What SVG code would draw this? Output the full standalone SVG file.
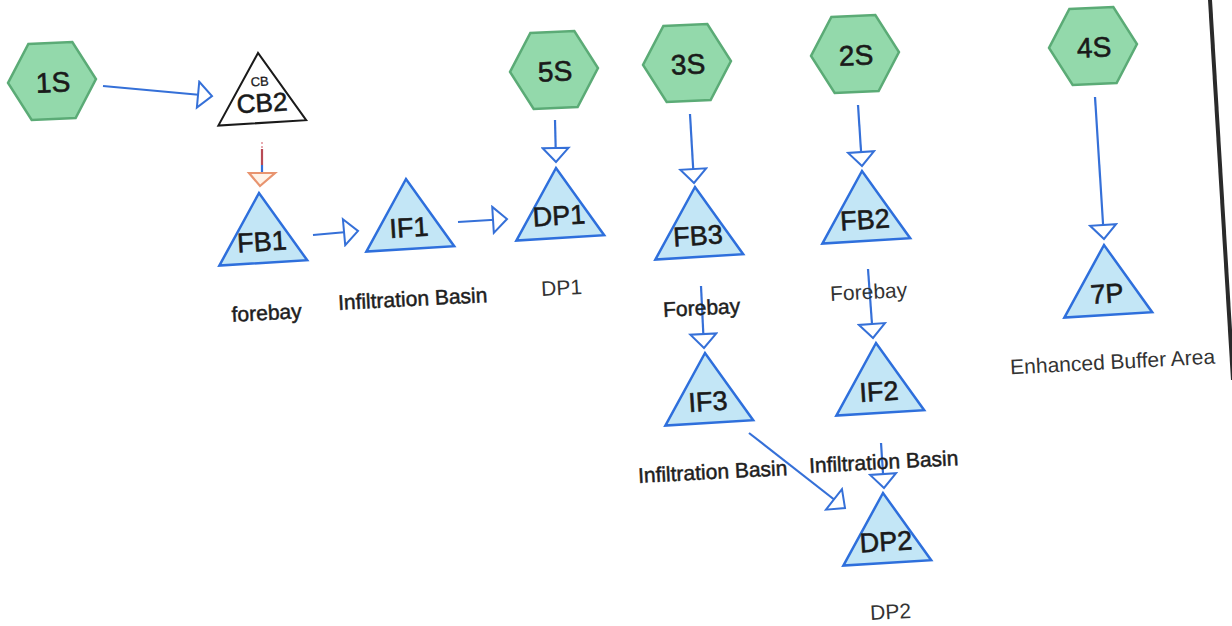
<svg xmlns="http://www.w3.org/2000/svg" width="1232" height="626" viewBox="0 0 1232 626">
<style>
.hex{fill:#93d9ab;stroke:#5bab76;stroke-width:2.5}
.tri{fill:#c3e6f6;stroke:#2e6fdc;stroke-width:2.5;stroke-linejoin:miter}
.tri-cb{fill:#ffffff;stroke:#1a1a1a;stroke-width:2}
.nt{font-family:"Liberation Sans",Arial,sans-serif;font-size:27px;fill:#1a1a1a;stroke:#1a1a1a;stroke-width:0.6;text-anchor:middle}
.ht{font-family:"Liberation Sans",Arial,sans-serif;font-size:28px;fill:#1a1a1a;stroke:#1a1a1a;stroke-width:0.6;text-anchor:middle}
.lb{font-family:"Liberation Sans",Arial,sans-serif;font-size:21px;fill:#1e1e1e;stroke:#1e1e1e;stroke-width:0.5;text-anchor:middle}
.lg{font-family:"Liberation Sans",Arial,sans-serif;font-size:21px;fill:#333333;text-anchor:middle}
.cn{stroke:#3570d8;stroke-width:2.2;fill:none;marker-end:url(#arr)}
</style>
<defs>
<marker id="arr" markerUnits="userSpaceOnUse" viewBox="0 0 18 30" refX="16" refY="15" markerWidth="18" markerHeight="30" orient="auto">
<path d="M2,2 L16,15 L2,28 Z" fill="#ffffff" stroke="#3570d8" stroke-width="2"/>
</marker>
</defs>
<rect width="1232" height="626" fill="#ffffff"/>

<g id="connectors">
<line class="cn" x1="103" y1="86" x2="212" y2="96"/>
<line x1="262" y1="142" x2="262" y2="149" stroke="#e8aab0" stroke-width="2" stroke-dasharray="2,2"/>
<line x1="262" y1="149" x2="262" y2="165" stroke="#b84a55" stroke-width="2.2"/>
<line x1="262" y1="165" x2="262" y2="173" stroke="#3570d8" stroke-width="2.2"/>
<polygon points="249,173 275,173 260,186" fill="#fff3e8" stroke="#e8946f" stroke-width="2.2"/>
<line class="cn" x1="313" y1="235" x2="358" y2="231"/>
<line class="cn" x1="458" y1="222" x2="507" y2="219"/>
<line class="cn" x1="555" y1="120" x2="556" y2="162"/>
<line class="cn" x1="690" y1="114" x2="694" y2="183"/>
<line class="cn" x1="701" y1="286" x2="704" y2="348"/>
<line class="cn" x1="749" y1="433" x2="845" y2="508"/>
<line class="cn" x1="858" y1="105" x2="862" y2="166"/>
<line class="cn" x1="868" y1="269" x2="873" y2="338"/>
<line class="cn" x1="881" y1="443" x2="884" y2="488"/>
<line class="cn" x1="1095" y1="97" x2="1104" y2="239"/>
</g>

<g id="n1S" transform="translate(52,81) rotate(-2.5)">
<polygon class="hex" points="-44,0 -22,-38 22,-38 44,0 22,38 -22,38"/>
<text class="ht" x="1" y="11">1S</text>
</g>
<g id="n5S" transform="translate(554,70) rotate(-2.5)">
<polygon class="hex" points="-44,0 -22,-38 22,-38 44,0 22,38 -22,38"/>
<text class="ht" x="1" y="11">5S</text>
</g>
<g id="n3S" transform="translate(687,63) rotate(-2.5)">
<polygon class="hex" points="-44,0 -22,-38 22,-38 44,0 22,38 -22,38"/>
<text class="ht" x="1" y="11">3S</text>
</g>
<g id="n2S" transform="translate(855,54) rotate(-2.5)">
<polygon class="hex" points="-44,0 -22,-38 22,-38 44,0 22,38 -22,38"/>
<text class="ht" x="1" y="11">2S</text>
</g>
<g id="n4S" transform="translate(1093,46) rotate(-2.5)">
<polygon class="hex" points="-44,0 -22,-38 22,-38 44,0 22,38 -22,38"/>
<text class="ht" x="1" y="11">4S</text>
</g>

<g id="nCB2" transform="translate(258,53) rotate(-3.5)">
<polygon class="tri-cb" points="0,0 -44,70 44,70"/>
<text class="nt" x="0" y="33" style="font-size:13px;stroke-width:0.3">CB</text>
<text class="nt" x="1" y="59" style="font-size:26px">CB2</text>
</g>
<g id="nFB1" transform="translate(259,193) rotate(-3.5)">
<polygon class="tri" points="0,0 -44,70 44,70"/>
<text class="nt" x="0" y="58">FB1</text>
</g>
<g id="nIF1" transform="translate(406,179) rotate(-3.5)">
<polygon class="tri" points="0,0 -44,70 44,70"/>
<text class="nt" x="0" y="58">IF1</text>
</g>
<g id="nDP1" transform="translate(556,168) rotate(-3.5)">
<polygon class="tri" points="0,0 -44,70 44,70"/>
<text class="nt" x="0" y="57">DP1</text>
</g>
<g id="nFB3" transform="translate(695,187) rotate(-3.5)">
<polygon class="tri" points="0,0 -44,70 44,70"/>
<text class="nt" x="0" y="58">FB3</text>
</g>
<g id="nFB2" transform="translate(862,171) rotate(-3.5)">
<polygon class="tri" points="0,0 -44,70 44,70"/>
<text class="nt" x="0" y="58">FB2</text>
</g>
<g id="nIF3" transform="translate(705,353) rotate(-3.5)">
<polygon class="tri" points="0,0 -44,70 44,70"/>
<text class="nt" x="0" y="58">IF3</text>
</g>
<g id="nIF2" transform="translate(876,343) rotate(-3.5)">
<polygon class="tri" points="0,0 -44,70 44,70"/>
<text class="nt" x="0" y="58">IF2</text>
</g>
<g id="nDP2" transform="translate(883,493) rotate(-3.5)">
<polygon class="tri" points="0,0 -44,70 44,70"/>
<text class="nt" x="0" y="58">DP2</text>
</g>
<g id="n7P" transform="translate(1104,245) rotate(-3.5)">
<polygon class="tri" points="0,0 -44,70 44,70"/>
<text class="nt" x="0" y="58">7P</text>
</g>

<g id="labels">
<text class="lb" transform="translate(267,320) rotate(-3)">forebay</text>
<text class="lb" transform="translate(413,306) rotate(-3)">Infiltration Basin</text>
<text class="lg" transform="translate(562,295) rotate(-3)">DP1</text>
<text class="lb" transform="translate(702,315) rotate(-3)">Forebay</text>
<text class="lg" transform="translate(869,299) rotate(-3)">Forebay</text>
<text class="lb" transform="translate(713,479) rotate(-3)">Infiltration Basin</text>
<text class="lb" transform="translate(884,469) rotate(-3)">Infiltration Basin</text>
<text class="lg" transform="translate(891,619) rotate(-3)">DP2</text>
<text class="lg" transform="translate(1113,369) rotate(-3)">Enhanced Buffer Area</text>
</g>

<line id="edge" x1="1210" y1="0" x2="1233" y2="380" stroke="#2a2a2a" stroke-width="4"/>
</svg>
